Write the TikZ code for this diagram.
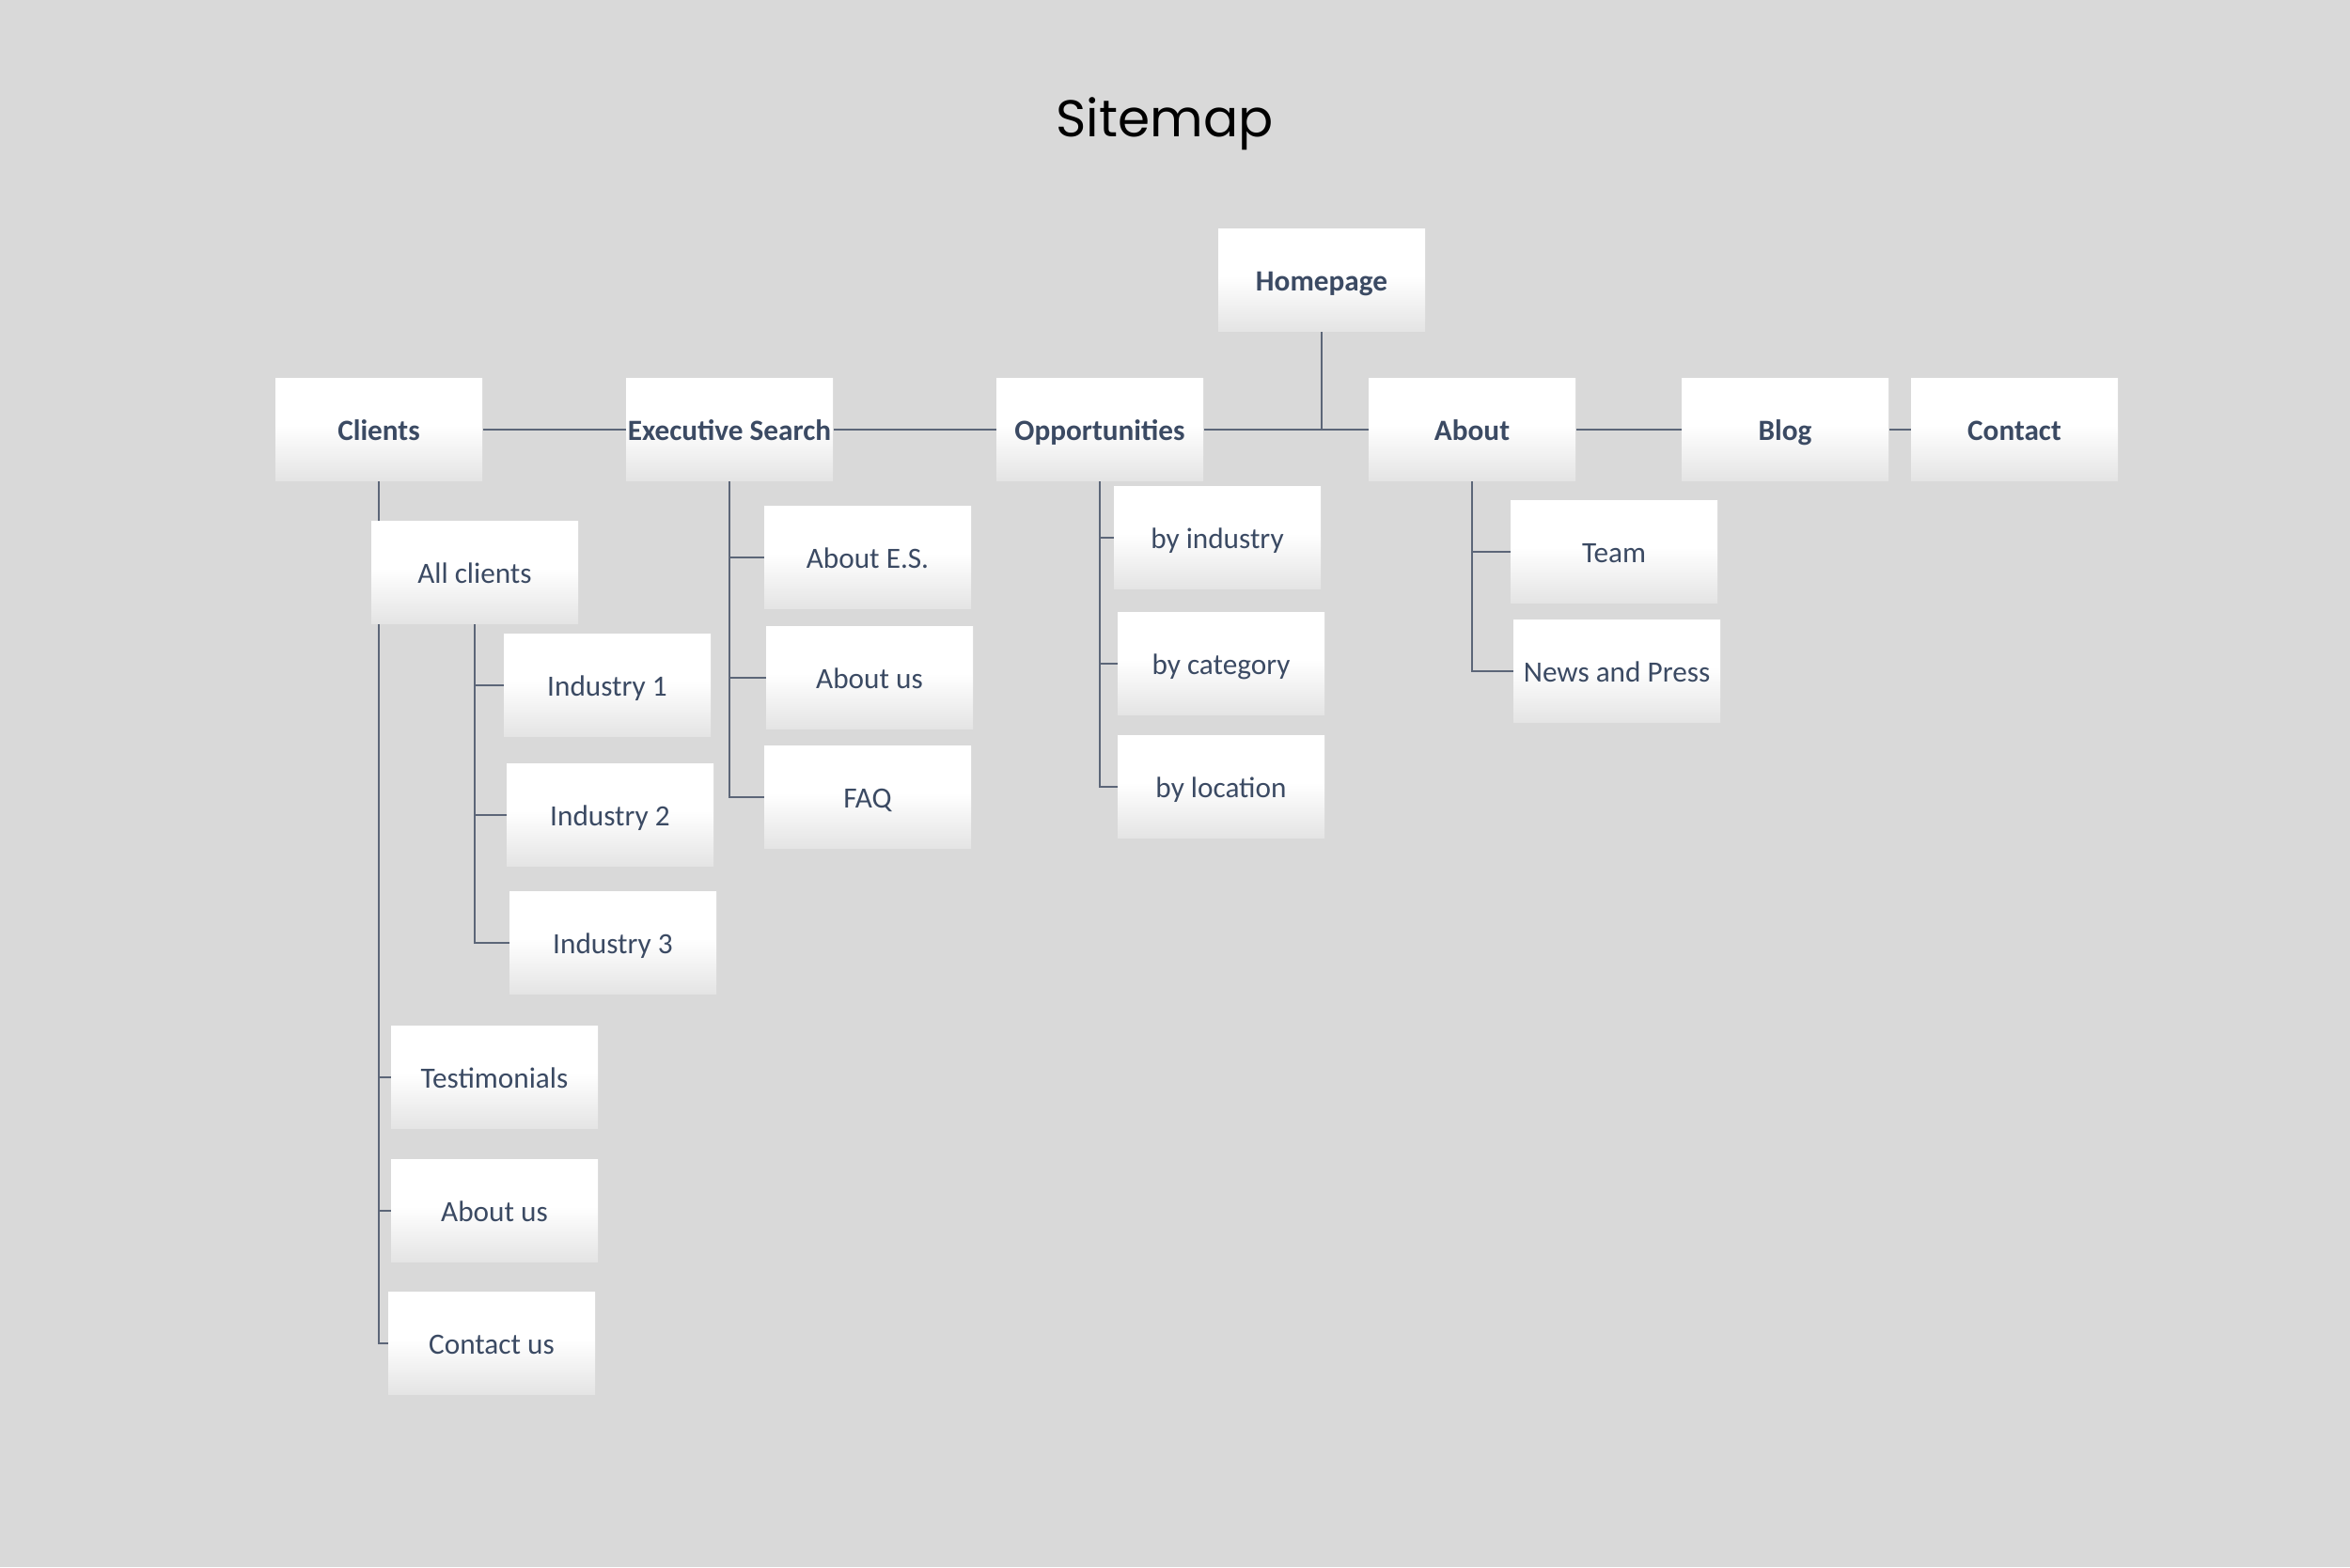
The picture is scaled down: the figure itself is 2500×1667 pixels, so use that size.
\documentclass[tikz,border=0pt]{standalone}
\usepackage{fontspec}
\setmainfont{Carlito}
\newfontfamily\titlefont{Poppins}
\definecolor{bg}{RGB}{217,217,217}
\definecolor{txt}{RGB}{59,74,99}
\definecolor{ln}{RGB}{92,102,120}
\definecolor{boxbot}{RGB}{228,228,228}
\pgfdeclareverticalshading{boxshade}{100bp}{color(0bp)=(boxbot); color(25bp)=(boxbot); color(52bp)=(white); color(100bp)=(white)}
\pgfdeclarelayer{bgfill}
\pgfdeclarelayer{lines}
\pgfsetlayers{bgfill,lines,main}
\begin{document}
\begin{tikzpicture}[x=0.4pt,y=-0.4pt,
  pagebox/.style={rectangle, minimum width=88pt, minimum height=43.6pt, inner sep=0pt,
    text height=8.8pt, text depth=0pt,
    shading=boxshade, text=txt, font=\fontsize{12.5}{15}\selectfont},
  topbox/.style={pagebox, font=\fontsize{12.5}{15}\selectfont\bfseries},
  link/.style={draw=ln, line width=0.55pt},
  toplink/.style={draw=ln, line width=0.75pt}]
\begin{pgfonlayer}{bgfill}
\fill[bg] (0,0) rectangle (2500,1667);
\end{pgfonlayer}
\path[use as bounding box] (0,0) rectangle (2500,1667);

\node[anchor=base, font=\titlefont\fontsize{22}{26}\selectfont] (title) at (1239,145) {Sitemap};

% top level
\node[topbox] (home) at (1406,298) {Homepage};
\node[topbox] (clients) at (403,457) {Clients};
\node[topbox] (es) at (776,457) {Executive Search};
\node[topbox] (opp) at (1170,457) {Opportunities};
\node[topbox] (about) at (1566,457) {About};
\node[topbox] (blog) at (1899,457) {Blog};
\node[topbox] (contact) at (2143,457) {Contact};

% clients
\node[pagebox] (allc) at (505,609) {All clients};
\node[pagebox] (ind1) at (646,729) {Industry 1};
\node[pagebox] (ind2) at (649,867) {Industry 2};
\node[pagebox] (ind3) at (652,1003) {Industry 3};
\node[pagebox] (testi) at (526,1146) {Testimonials};
\node[pagebox] (aboutc) at (526,1288) {About us};
\node[pagebox] (contc) at (523,1429) {Contact us};

% executive search
\node[pagebox] (abes) at (923,593) {About E.S.};
\node[pagebox] (abus) at (925,721) {About us};
\node[pagebox] (faq) at (923,848) {FAQ};

% opportunities
\node[pagebox] (byind) at (1295,572) {by industry};
\node[pagebox] (bycat) at (1299,706) {by category};
\node[pagebox] (byloc) at (1299,837) {by location};

% about
\node[pagebox] (team) at (1717,587) {Team};
\node[pagebox] (news) at (1720,714) {News and Press};

\begin{pgfonlayer}{lines}
\draw[link] (home.south) |- (about.west);
\draw[toplink] (clients.east) -- (es.west);
\draw[link] (es.east) -- (opp.west);
\draw[toplink] (opp.east) -- (about.west);
\draw[toplink] (about.east) -- (blog.west);
\draw[link] (blog.east) -- (contact.west);

\draw[link] (clients.south) |- (allc.west);
\draw[link] (clients.south) |- (testi.west);
\draw[link] (clients.south) |- (aboutc.west);
\draw[link] (clients.south) |- (contc.west);
\draw[link] (allc.south) |- (ind1.west);
\draw[link] (allc.south) |- (ind2.west);
\draw[link] (allc.south) |- (ind3.west);

\draw[link] (es.south) |- (abes.west);
\draw[link] (es.south) |- (abus.west);
\draw[link] (es.south) |- (faq.west);

\draw[link] (opp.south) |- (byind.west);
\draw[link] (opp.south) |- (bycat.west);
\draw[link] (opp.south) |- (byloc.west);

\draw[link] (about.south) |- (team.west);
\draw[link] (about.south) |- (news.west);
\end{pgfonlayer}
\end{tikzpicture}
\end{document}
